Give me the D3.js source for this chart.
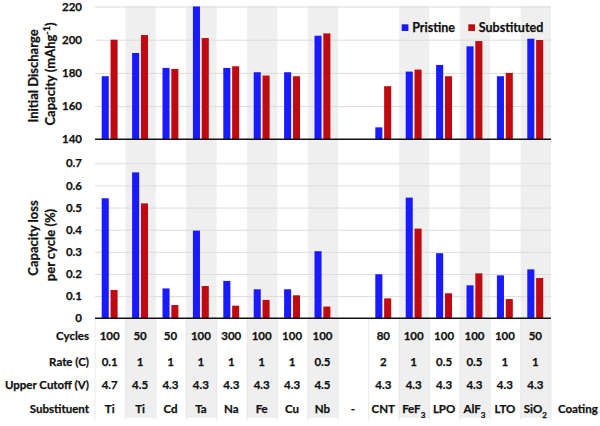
<!DOCTYPE html>
<html><head><meta charset="utf-8">
<script src="https://cdn.jsdelivr.net/npm/d3@7"></script>
<style>
html,body{margin:0;padding:0;background:#fff;}
svg{display:block;font-family:Lato,"Open Sans",sans-serif;font-weight:700;}
svg text{stroke:#111;stroke-width:0.25px;}
</style></head>
<body>
<svg id="chart" width="600" height="426"></svg>
<script>
const categories = ["Ti","Ti","Cd","Ta","Na","Fe","Cu","Nb","-","CNT","FeF3","LPO","AlF3","LTO","SiO2"];
const pristineCapacity = [178,192,183,225,183,180.4,180.4,202.4,null,147.2,180.8,184.8,196,178,200.6];
const substitutedCapacity = [200,202.8,182.4,201,184,178.4,178,203.8,null,172,182,178,199.2,180,199.8];
const pristineLoss = [0.542,0.659,0.135,0.396,0.169,0.131,0.131,0.303,null,0.199,0.545,0.294,0.149,0.194,0.221];
const substitutedLoss = [0.128,0.519,0.060,0.146,0.057,0.083,0.104,0.053,null,0.090,0.405,0.113,0.203,0.087,0.182];
const cycles = ["100","50","50","100","300","100","100","100","","80","100","100","100","100","50"];
const rates = ["0.1","1","1","1","1","1","1","0.5","","2","1","0.5","0.5","1","1"];
const cutoffs = ["4.7","4.5","4.3","4.3","4.3","4.3","4.3","4.5","","4.3","4.3","4.3","4.3","4.3","4.3"];
const capTicks = [140,160,180,200,220];
const lossTicks = [0,0.1,0.2,0.3,0.4,0.5,0.6,0.7];
const shaded = [1,3,5,7,10,12,14];
const rowLabels = ["Cycles","Rate (C)","Upper Cutoff (V)","Substituent"];
const seriesNames = ["Pristine","Substituted"];
const colors = {Pristine:"#1a1aff", Substituted:"#c00a12"};

const svg = d3.select("#chart");
const L = 95, R = 551;
const idx = d3.range(categories.length);
const x = d3.scaleBand().domain(idx).range([L,R]).padding(0);
const xs = d3.scaleBand().domain(seriesNames).range([6.7,22.6]).paddingInner(0.2);
const yTop = d3.scaleLinear().domain([140,220]).range([139.3,6.5]);
const yBot = d3.scaleLinear().domain([0,0.7]).range([318.3,163.3]);

svg.append("g").selectAll("rect").data(shaded).join("rect")
  .attr("x", d=>x(d)).attr("width", x.bandwidth())
  .attr("y", 6).attr("height", 412).attr("fill","#efefef");

svg.append("g").selectAll("line").data(d3.range(categories.length+1)).join("line")
  .attr("x1", d=>L + d*x.bandwidth()).attr("x2", d=>L + d*x.bandwidth())
  .attr("y1", 319).attr("y2", 420).attr("stroke","#e4e4e4").attr("stroke-width",0.8);

function grid(scale, ticks){
  const g = svg.append("g").attr("transform",`translate(${L},0)`);
  g.call(d3.axisLeft(scale).tickValues(ticks).tickSize(-(R-L)).tickFormat(""));
  g.select(".domain").remove();
  g.selectAll(".tick line").attr("stroke","#dcdcdc").attr("stroke-width",1);
}
grid(yTop, capTicks.slice(1));
grid(yBot, lossTicks.slice(1));

function labels(scale, ticks, fmt){
  const g = svg.append("g").attr("transform",`translate(${L},0)`);
  g.call(d3.axisLeft(scale).tickValues(ticks).tickSize(0).tickPadding(13).tickFormat(fmt));
  g.select(".domain").remove();
  g.selectAll("text").attr("font-size",11.5).attr("font-family","Lato,sans-serif").attr("font-weight",700).attr("fill","#111");
}
labels(yTop, capTicks, d3.format("d"));
labels(yBot, lossTicks, d=> d===0 ? "0" : d3.format(".1f")(d));

svg.append("clipPath").attr("id","clipTop").append("rect").attr("x",L).attr("y",yTop(220)).attr("width",R-L).attr("height",yTop(140)-yTop(220));

const topData = [], botData = [];
idx.forEach(i=>{
  if(pristineCapacity[i]!=null){
    topData.push({i, s:"Pristine", v:pristineCapacity[i]});
    topData.push({i, s:"Substituted", v:substitutedCapacity[i]});
    botData.push({i, s:"Pristine", v:pristineLoss[i]});
    botData.push({i, s:"Substituted", v:substitutedLoss[i]});
  }
});
svg.append("g").attr("clip-path","url(#clipTop)").selectAll("rect").data(topData).join("rect")
  .attr("x", d=>x(d.i)+xs(d.s)).attr("width", xs.bandwidth())
  .attr("y", d=>yTop(d.v)).attr("height", d=>yTop(140)-yTop(d.v))
  .attr("fill", d=>colors[d.s]);
svg.append("g").selectAll("rect").data(botData).join("rect")
  .attr("x", d=>x(d.i)+xs(d.s)).attr("width", xs.bandwidth())
  .attr("y", d=>yBot(d.v)).attr("height", d=>yBot(0)-yBot(d.v))
  .attr("fill", d=>colors[d.s]);

[yTop(140), yBot(0)].forEach(yy=>{
  svg.append("line").attr("x1",L).attr("x2",R).attr("y1",yy).attr("y2",yy).attr("stroke","#111").attr("stroke-width",1.6);
});

svg.append("text").attr("transform","translate(38,76) rotate(-90)").attr("text-anchor","middle").attr("font-size",13).attr("fill","#111").text("Initial Discharge");
const t2 = svg.append("text").attr("transform","translate(55,74) rotate(-90)").attr("text-anchor","middle").attr("font-size",13).attr("fill","#111");
t2.append("tspan").text("Capacity (mAhg");
t2.append("tspan").attr("baseline-shift","super").attr("font-size",9).text("-1");
t2.append("tspan").text(")");
svg.append("text").attr("transform","translate(38,238) rotate(-90)").attr("text-anchor","middle").attr("font-size",13).attr("fill","#111").text("Capacity loss");
svg.append("text").attr("transform","translate(55,245) rotate(-90)").attr("text-anchor","middle").attr("font-size",13).attr("fill","#111").text("per cycle (%)");

const leg = svg.append("g");
const legX = [401.7, 468.3];
seriesNames.forEach((s,k)=>{
  leg.append("rect").attr("x",legX[k]).attr("y",24.3).attr("width",6.7).attr("height",6.7).attr("fill",colors[s]);
  leg.append("text").attr("x",legX[k]+10.5).attr("y",31.6).attr("font-size",12.5).attr("fill","#111").text(s);
});

const rowY = [340, 365.5, 389, 413];
rowLabels.forEach((lab,r)=>{
  svg.append("text").attr("x",89).attr("y",rowY[r]).attr("text-anchor","end").attr("font-size",11.5).attr("fill","#111").text(lab);
});
const rows = [cycles, rates, cutoffs];
rows.forEach((arr,r)=>{
  svg.append("g").selectAll("text").data(idx).join("text")
    .attr("x", i=>x(i)+x.bandwidth()/2 - 0.5).attr("y", rowY[r])
    .attr("text-anchor","middle").attr("font-size",11.5).attr("fill","#111")
    .text(i=>arr[i]);
});
const subG = svg.append("g");
idx.forEach(i=>{
  const name = categories[i];
  const t = subG.append("text").attr("x", x(i)+x.bandwidth()/2 - 0.5).attr("y", rowY[3])
    .attr("text-anchor","middle").attr("font-size",11.5).attr("fill","#111");
  const m = name.match(/^([A-Za-z]+?)(\d)$/);
  if(m){
    t.append("tspan").text(m[1]);
    t.append("tspan").attr("baseline-shift","sub").attr("font-size",8).text(m[2]);
  } else t.text(name);
});
svg.append("text").attr("x",558).attr("y",rowY[3]).attr("font-size",11.5).attr("fill","#111").text("Coating");
</script>
</body></html>
